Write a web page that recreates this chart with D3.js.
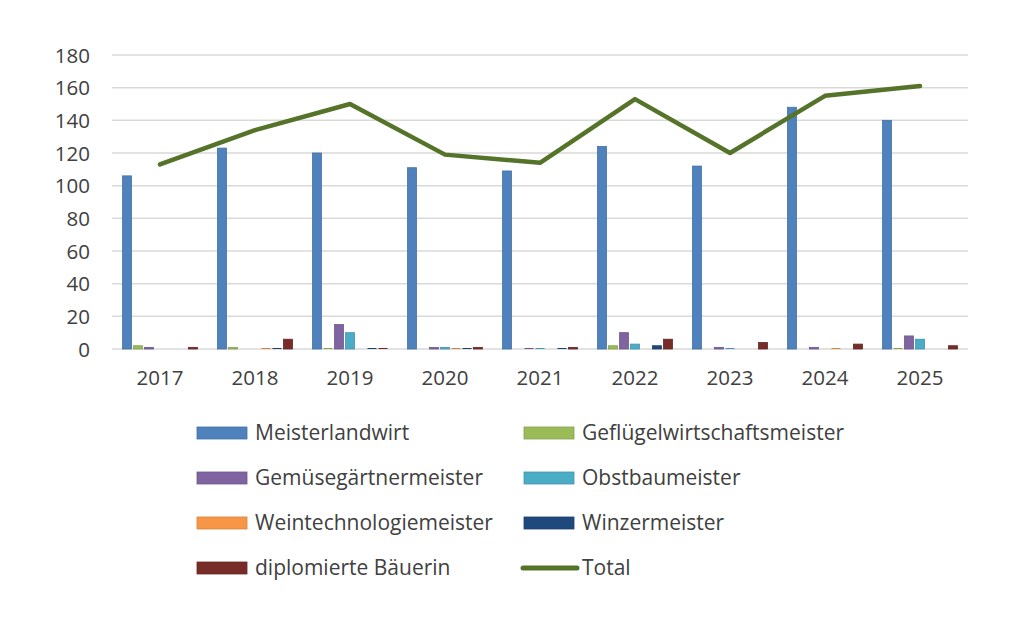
<!DOCTYPE html>
<html><head><meta charset="utf-8">
<script src="https://cdn.jsdelivr.net/npm/d3@7"></script>
<style>
body{margin:0;background:#fff;}
svg{display:block;font-family:"Open Sans",sans-serif;}
</style></head>
<body><svg id="c" width="1028" height="620"></svg>
<script>
const years = ["2017","2018","2019","2020","2021","2022","2023","2024","2025"];
const seriesNames = ["Meisterlandwirt","Geflügelwirtschaftsmeister","Gemüsegärtnermeister","Obstbaumeister","Weintechnologiemeister","Winzermeister","diplomierte Bäuerin"];
const meisterlandwirt = [106,123,120,111,109,124,112,148,140];
const gefluegel       = [2,1,0,null,null,2,null,null,0];
const gemuese         = [1,null,15,1,0,10,1,1,8];
const obstbau         = [null,null,10,1,0,3,0,null,6];
const weintech        = [null,0,null,0,null,null,null,0,null];
const winzer          = [null,0,0,0,0,2,null,null,null];
const baeuerin        = [1,6,0,1,1,6,4,3,2];
const total           = [113,134,150,119,114,153,120,155,161];
const yTicks = [0,20,40,60,80,100,120,140,160,180];
const colors = ["#4f81bd","#9bbb59","#8064a2","#4bacc6","#f79646","#1f497d","#772c2a"];
const totalColor = "#56732a";

const seriesValues = [meisterlandwirt,gefluegel,gemuese,obstbau,weintech,winzer,baeuerin];

const svg = d3.select("#c");
const x = d3.scaleBand().domain(years).range([112.5,967.5]).padding(0);
const x1 = d3.scaleBand().domain(seriesNames).range([10,85]).paddingInner(2/11).paddingOuter(0);
const y = d3.scaleLinear().domain([0,180]).range([349,55]);

// gridlines
svg.append("g").selectAll("line").data(yTicks).join("line")
  .attr("x1",112).attr("x2",968)
  .attr("y1",d=>y(d)).attr("y2",d=>y(d))
  .attr("stroke","#d9d9d9").attr("stroke-width",1.5);

// y axis labels
const yAxis = d3.axisLeft(y).tickValues(yTicks).tickSize(0).tickPadding(0);
const ga = svg.append("g").attr("transform","translate(90,0)").call(yAxis);
ga.select(".domain").remove();
ga.selectAll("text").attr("font-size",20.5).attr("fill","#404040").attr("font-family","'Open Sans',sans-serif").attr("dy","0.35em");

// x axis labels
const xAxis = d3.axisBottom(x).tickSize(0).tickPadding(0);
const gx = svg.append("g").attr("transform","translate(0,378)").call(xAxis);
gx.select(".domain").remove();
gx.selectAll("text").attr("font-size",20.5).attr("fill","#404040").attr("font-family","'Open Sans',sans-serif").attr("dy","0.35em");

// bars
const barData = [];
seriesValues.forEach((arr,si)=>arr.forEach((v,yi)=>{ if(v!==null) barData.push({s:seriesNames[si],si,year:years[yi],v}); }));
svg.append("g").selectAll("rect").data(barData).join("rect")
  .attr("x",d=>x(d.year)+x1(d.s))
  .attr("width",x1.bandwidth())
  .attr("y",d=>d.v===0 ? y(0)-1 : y(d.v))
  .attr("height",d=>d.v===0 ? 1 : y(0)-y(d.v))
  .attr("fill",d=>d.v===0 ? d3.color(colors[d.si]).darker(0.4) : colors[d.si])
  .attr("stroke",d=>d.v===0 ? "none" : d3.color(colors[d.si]).darker(0.4))
  .attr("stroke-width",0.8);

// total line
const line = d3.line().x((d,i)=>x(years[i])+x.bandwidth()/2).y(d=>y(d));
svg.append("path").datum(total).attr("d",line)
  .attr("fill","none").attr("stroke",totalColor).attr("stroke-width",4.5)
  .attr("stroke-linejoin","round").attr("stroke-linecap","round");

// legend
const legendItems = seriesNames.map((n,i)=>({name:n,color:colors[i],type:"bar"})).concat([{name:"Total",color:totalColor,type:"line"}]);
const colX = [197,524];
const rowY = [433,478,523,568];
const lg = svg.append("g");
legendItems.forEach((it,i)=>{
  const cx = colX[i%2], cy = rowY[Math.floor(i/2)];
  if(it.type==="bar"){
    lg.append("rect").attr("x",cx).attr("y",cy-6).attr("width",50).attr("height",12)
      .attr("fill",it.color).attr("stroke",d3.color(it.color).darker(0.4)).attr("stroke-width",0.8);
  } else {
    lg.append("line").attr("x1",cx-1).attr("x2",cx+53).attr("y1",cy).attr("y2",cy)
      .attr("stroke",it.color).attr("stroke-width",5).attr("stroke-linecap","round");
  }
  lg.append("text").attr("x",cx+58).attr("y",cy).attr("dy","0.35em")
    .attr("font-size",21).attr("fill","#404040").text(it.name);
});
</script></body></html>
